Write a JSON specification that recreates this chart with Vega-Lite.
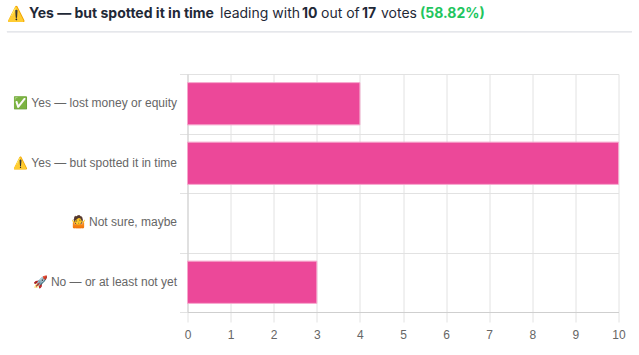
{"$schema":"https://vega.github.io/schema/vega-lite/v6.json","width":431,"height":238,"autosize":"none","padding":{"left":187.5,"top":74,"right":20.5,"bottom":43},"background":"white",
"config":{"view":{"stroke":null}},
"data":{"values":[
{"option":"✅ Yes — lost money or equity","votes":4},
{"option":"⚠️ Yes — but spotted it in time","votes":10},
{"option":"🤷 Not sure, maybe","votes":0},
{"option":"🚀 No — or at least not yet","votes":3}]},
"encoding":{"y":{"field":"option","type":"nominal","sort":null,"scale":{"paddingInner":0,"paddingOuter":0},"axis":{"title":null,"tickBand":"extent","grid":true,"gridColor":"#e2e2e2","domainColor":"#cfcfcf","tickColor":"#e2e2e2","tickSize":8,"labelPadding":3,"labelOffset":-1,"labelFont":"Liberation Sans","labelFontSize":12,"labelColor":"#666666","labelLimit":180}}},
"layer":[
{"mark":{"type":"bar","fill":"#EC4899","stroke":"#F6A5CC","strokeWidth":1,"height":{"band":0.71}},
"encoding":{"strokeOpacity":{"condition":{"test":"datum.votes>0","value":1},"value":0},"x":{"field":"votes","type":"quantitative","scale":{"domain":[0,10],"nice":false},"axis":{"title":null,"values":[0,1,2,3,4,5,6,7,8,9,10],"format":"d","grid":true,"gridColor":"#e2e2e2","domainColor":"#cfcfcf","tickColor":"#e2e2e2","tickSize":10,"labelPadding":7,"labelFont":"Liberation Sans","labelFontSize":12,"labelColor":"#666666","labelFlush":false}}}},
{"mark":{"type":"rule","stroke":"#e5e7eb","strokeWidth":1,"yOffset":-72,"clip":false},
"encoding":{"x":{"datum":-4.19,"type":"quantitative"},"x2":{"datum":10.31},"y":{"datum":"✅ Yes — lost money or equity"}}},
{"transform":[{"filter":"datum.votes==10"}],"layer":[
{"mark":{"type":"text","align":"left","baseline":"middle","font":"Inter","fontSize":15,"fontWeight":700,"fill":"#1f2937","dx":-180.5,"dy":-89.5},"encoding":{"text":{"datum":"⚠️"},"x":{"datum":0,"type":"quantitative"},"y":{"datum":"✅ Yes — lost money or equity"}}},
{"mark":{"type":"text","align":"left","baseline":"middle","font":"Inter","fontSize":14,"fontWeight":700,"fill":"#1f2937","dx":-158.5,"dy":-89.5},"encoding":{"text":{"datum":"Yes — but spotted it in time"},"x":{"datum":0,"type":"quantitative"},"y":{"datum":"✅ Yes — lost money or equity"}}},
{"mark":{"type":"text","align":"left","baseline":"middle","font":"Inter","fontSize":14,"fill":"#1f2937","dx":32.5,"dy":-89.5},"encoding":{"text":{"datum":"leading with"},"x":{"datum":0,"type":"quantitative"},"y":{"datum":"✅ Yes — lost money or equity"}}},
{"mark":{"type":"text","align":"left","baseline":"middle","font":"Inter","fontSize":14,"fontWeight":700,"fill":"#1f2937","dx":114.5,"dy":-89.5},"encoding":{"text":{"datum":"10"},"x":{"datum":0,"type":"quantitative"},"y":{"datum":"✅ Yes — lost money or equity"}}},
{"mark":{"type":"text","align":"left","baseline":"middle","font":"Inter","fontSize":14,"fill":"#1f2937","dx":133.5,"dy":-89.5},"encoding":{"text":{"datum":"out of"},"x":{"datum":0,"type":"quantitative"},"y":{"datum":"✅ Yes — lost money or equity"}}},
{"mark":{"type":"text","align":"left","baseline":"middle","font":"Inter","fontSize":14,"fontWeight":700,"fill":"#1f2937","dx":174.5,"dy":-89.5},"encoding":{"text":{"datum":"17"},"x":{"datum":0,"type":"quantitative"},"y":{"datum":"✅ Yes — lost money or equity"}}},
{"mark":{"type":"text","align":"left","baseline":"middle","font":"Inter","fontSize":14,"fill":"#1f2937","dx":193.5,"dy":-89.5},"encoding":{"text":{"datum":"votes"},"x":{"datum":0,"type":"quantitative"},"y":{"datum":"✅ Yes — lost money or equity"}}},
{"mark":{"type":"text","align":"left","baseline":"middle","font":"Inter","fontSize":14,"fontWeight":700,"fill":"#22c55e","dx":232.5,"dy":-89.5},"encoding":{"text":{"datum":"(58.82%)"},"x":{"datum":0,"type":"quantitative"},"y":{"datum":"✅ Yes — lost money or equity"}}}
]}
]}
